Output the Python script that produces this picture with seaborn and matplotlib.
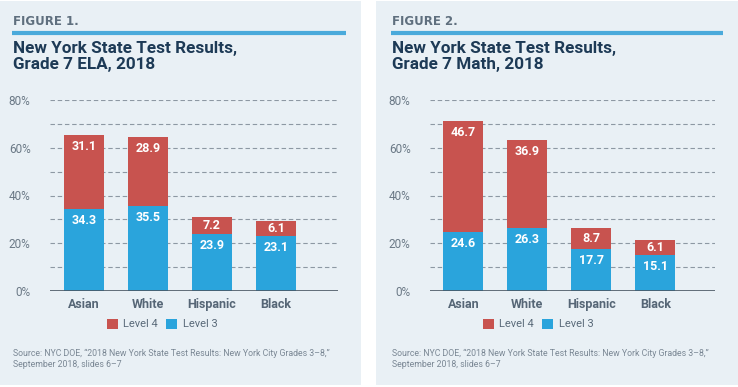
import matplotlib
matplotlib.use("Agg")
import matplotlib.pyplot as plt
from matplotlib.patches import Rectangle, Patch
from matplotlib.lines import Line2D
import seaborn as sns
import pandas as pd
import numpy as np

# ---- data ----
groups = ["Asian", "White", "Hispanic", "Black"]
ela_level3 = [34.3, 35.5, 23.9, 23.1]
ela_level4 = [31.1, 28.9, 7.2, 6.1]
math_level3 = [24.6, 26.3, 17.7, 15.1]
math_level4 = [46.7, 36.9, 8.7, 6.1]
fig_labels = ["FIGURE 1.", "FIGURE 2."]
titles = ["New York State Test Results,\nGrade 7 ELA, 2018",
          "New York State Test Results,\nGrade 7 Math, 2018"]
yticks = [0, 20, 40, 60, 80]
ytick_labels = ["0%", "20%", "40%", "60%", "80%"]
source_text = ("Source: NYC DOE, \u201c2018 New York State Test Results: New York City Grades 3\u20138,\u201d\n"
               "September 2018, slides 6\u20137")

sns.set_theme(style="white")
plt.rcParams['font.family'] = ['Roboto', 'DejaVu Sans']

W, H = 738, 387
fig = plt.figure(figsize=(W / 100, H / 100), dpi=100)
fig.patch.set_facecolor("white")

RED = "#c8534f"
BLUE = "#2aa4dc"
PANEL = "#e9f0f5"
NAVY = "#1d3a56"
GRAY = "#6b7986"
LINEBLUE = "#4aaadb"
PX_PER_UNIT = 191 / 80.0  # pixels per percentage point on the y axis


def fx(x):
    return x / W


def fy(y):
    return 1 - y / H


panels = [
    dict(px0=0, px1=361, ax=(50, 338), xlim=(-0.53, 3.97), l3=ela_level3, l4=ela_level4,
         tx=13, line=(12, 346), leg=162),
    dict(px0=376, px1=738, ax=(430, 715), xlim=(-0.52, 3.93), l3=math_level3, l4=math_level4,
         tx=392, line=(391, 723), leg=538),
]


def label_offset(seg):
    # offset (points) of a label below the segment top; centre it if the segment is short
    seg_px = seg * PX_PER_UNIT
    off_px = min(11.5, seg_px / 2)
    return -off_px * 72 / 100


for i, p in enumerate(panels):
    fig.patches.append(Rectangle((fx(p["px0"]), fy(385)), fx(p["px1"] - p["px0"]), (385 - 1) / H,
                                 transform=fig.transFigure, facecolor=PANEL, edgecolor="none", zorder=-5))
    fig.text(fx(p["tx"]), fy(21.5), fig_labels[i], fontsize=8.5, fontweight="bold", color="#5f6f7e",
             va="center", ha="left", family=["DejaVu Sans"])
    fig.lines.append(Line2D([fx(p["line"][0]), fx(p["line"][1])], [fy(33), fy(33)],
                            transform=fig.transFigure, color=LINEBLUE, lw=3, solid_capstyle="butt"))
    fig.text(fx(p["tx"]), fy(41.5), titles[i], fontsize=12.3, fontweight="bold", color=NAVY,
             va="top", ha="left", linespacing=1.0)

    ax0, ax1 = p["ax"]
    ax = fig.add_axes([fx(ax0), fy(291), fx(ax1 - ax0), (291 - 100) / H])
    ax.set_facecolor("none")
    total = [a + b for a, b in zip(p["l3"], p["l4"])]
    df = pd.DataFrame({"group": groups, "level3": p["l3"], "level4": p["l4"], "total": total})
    for y in range(10, 81, 10):
        ax.axhline(y, color="#8d98a3", lw=0.8, ls=(0, (4, 2.5)), zorder=0)
    sns.barplot(data=df, x="group", y="total", color=RED, width=0.625, saturation=1, ax=ax,
                zorder=2, linewidth=0, edgecolor="none")
    sns.barplot(data=df, x="group", y="level3", color=BLUE, width=0.625, saturation=1, ax=ax,
                zorder=3, linewidth=0, edgecolor="none")
    ax.axhline(0, color="#4a5763", lw=1.2, zorder=4)
    ax.set_xlim(*p["xlim"])
    ax.set_ylim(0, 80)
    ax.set_yticks(yticks)
    ax.set_yticklabels(ytick_labels, fontsize=8.5, color=GRAY)
    ax.tick_params(axis="y", length=0, pad=14)
    ax.tick_params(axis="x", length=0, pad=5)
    ax.set_xticks(range(len(groups)))
    ax.set_xticklabels(groups, fontsize=9, fontweight="bold", color="#566676")
    ax.set_xlabel("")
    ax.set_ylabel("")
    for s in ax.spines.values():
        s.set_visible(False)
    for j in range(len(groups)):
        ax.annotate(f"{p['l4'][j]:.1f}", (j, total[j]), xytext=(0, label_offset(p["l4"][j])),
                    textcoords="offset points", ha="center", va="center", color="white",
                    fontsize=9, fontweight="bold", zorder=5)
        ax.annotate(f"{p['l3'][j]:.1f}", (j, p["l3"][j]), xytext=(0, label_offset(p["l3"][j])),
                    textcoords="offset points", ha="center", va="center", color="white",
                    fontsize=9, fontweight="bold", zorder=5)

    handles = [Patch(facecolor=RED, edgecolor="none", label="Level 4"),
               Patch(facecolor=BLUE, edgecolor="none", label="Level 3")]
    leg = fig.legend(handles=handles, loc="center", bbox_to_anchor=(fx(p["leg"]), fy(324)),
                     ncol=2, frameon=False, fontsize=8, handlelength=1.0, handleheight=1.0,
                     handletextpad=0.5, columnspacing=0.7)
    for t in leg.get_texts():
        t.set_color("#5a6a79")

    fig.text(fx(p["tx"]), fy(349), source_text, fontsize=6.3, color="#7a8794", va="top", ha="left",
             linespacing=1.25)

fig.savefig("out.png", dpi=100, facecolor=fig.get_facecolor())
